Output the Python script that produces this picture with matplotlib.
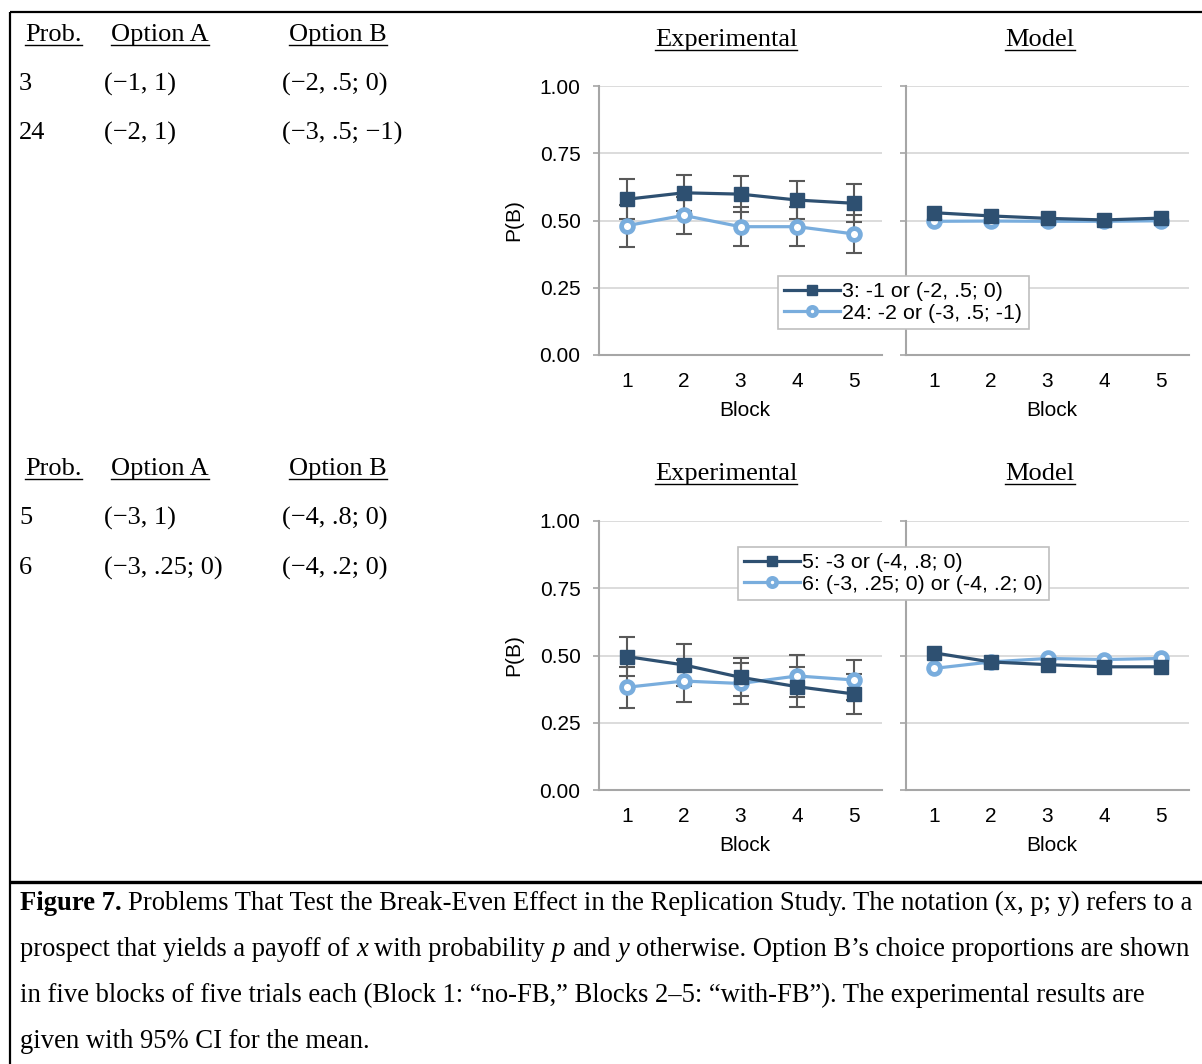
import matplotlib
matplotlib.use("Agg")
import matplotlib.pyplot as plt
from matplotlib.lines import Line2D

# ---------------- data ----------------
blocks = [1, 2, 3, 4, 5]
block_labels = ["1", "2", "3", "4", "5"]
ytick_vals = [0.0, 0.25, 0.5, 0.75, 1.0]
ytick_labels = ["0.00", "0.25", "0.50", "0.75", "1.00"]

top_labels = ["3: -1 or (-2, .5; 0)", "24: -2 or (-3, .5; -1)"]
top_exp_a = [0.579, 0.603, 0.598, 0.576, 0.564]
top_exp_a_ci = [0.074, 0.067, 0.067, 0.071, 0.070]
top_exp_b = [0.481, 0.519, 0.477, 0.477, 0.450]
top_exp_b_ci = [0.078, 0.069, 0.072, 0.072, 0.072]
top_mod_a = [0.529, 0.517, 0.508, 0.502, 0.509]
top_mod_b = [0.497, 0.498, 0.497, 0.497, 0.499]

bot_labels = ["5: -3 or (-4, .8; 0)", "6: (-3, .25; 0) or (-4, .2; 0)"]
bot_exp_a = [0.496, 0.465, 0.419, 0.384, 0.357]
bot_exp_a_ci = [0.074, 0.078, 0.070, 0.074, 0.075]
bot_exp_b = [0.382, 0.405, 0.396, 0.424, 0.409]
bot_exp_b_ci = [0.076, 0.077, 0.075, 0.077, 0.074]
bot_mod_a = [0.510, 0.476, 0.466, 0.458, 0.458]
bot_mod_b = [0.452, 0.476, 0.489, 0.485, 0.489]

table_header = ["Prob.", "Option A", "Option B"]
top_table = [["3", "(\u22121, 1)", "(\u22122, .5; 0)"],
             ["24", "(\u22122, 1)", "(\u22123, .5; \u22121)"]]
bot_table = [["5", "(\u22123, 1)", "(\u22124, .8; 0)"],
             ["6", "(\u22123, .25; 0)", "(\u22124, .2; 0)"]]

# ---------------- style ----------------
W, H = 1202, 1064
DARK = "#2E5071"
LIGHT = "#79ADDD"
ERR = "#595959"
GRID = "#D9D9D9"
AXC = "#A6A6A6"
SERIF = "Liberation Serif"
SANS = "Liberation Sans"
TSIZE = 19
CSIZE = 19.2
ASIZE = 15
LSIZE = 15.4

fig = plt.figure(figsize=(W / 100, H / 100), dpi=100)
renderer = fig.canvas.get_renderer()


def fx(px):
    return px / W


def fy(py):
    return 1 - py / H


def hline(x0, x1, y, lw):
    fig.add_artist(Line2D([fx(x0), fx(x1)], [fy(y), fy(y)], color="black", lw=lw,
                          transform=fig.transFigure, solid_capstyle="butt"))


def vline(x, y0, y1, lw):
    fig.add_artist(Line2D([fx(x), fx(x)], [fy(y0), fy(y1)], color="black", lw=lw,
                          transform=fig.transFigure, solid_capstyle="butt"))


def utext(x, y, s, ha="left"):
    t = fig.text(fx(x), fy(y), s, ha=ha, va="center", family=SERIF, fontsize=TSIZE)
    bb = t.get_window_extent(renderer)
    yl = bb.y0 + 1.5
    fig.add_artist(Line2D([bb.x0 / W, bb.x1 / W], [yl / H, yl / H], color="black",
                          lw=1.0, transform=fig.transFigure))
    return t


def make_axes(x0, x1, ytop, ybot, show_labels):
    ax = fig.add_axes([fx(x0), fy(ybot), fx(x1) - fx(x0), (ybot - ytop) / H])
    ax.set_xlim(0.5, 5.5)
    ax.set_ylim(0, 1)
    ax.set_xticks(blocks)
    ax.set_xticklabels(block_labels, family=SANS, fontsize=ASIZE)
    ax.set_yticks(ytick_vals)
    if show_labels:
        ax.set_yticklabels(ytick_labels, family=SANS, fontsize=ASIZE)
        ax.set_ylabel("P(B)", family=SANS, fontsize=ASIZE, labelpad=12)
    else:
        ax.set_yticklabels([])
    ax.set_xlabel("Block", family=SANS, fontsize=ASIZE)
    ax.xaxis.set_label_coords(0.515, -0.172)
    ax.tick_params(axis="x", length=0, pad=12)
    ax.tick_params(axis="y", length=4, width=1.2, color=AXC, pad=9, direction="out")
    for s in ["top", "right"]:
        ax.spines[s].set_visible(False)
    for s in ["left", "bottom"]:
        ax.spines[s].set_color(AXC)
        ax.spines[s].set_linewidth(1.5)
    ax.grid(axis="y", color=GRID, lw=1.3)
    ax.set_axisbelow(True)
    return ax


def plot_exp(ax, a, aci, b, bci):
    ax.errorbar(blocks, a, yerr=aci, fmt="none", ecolor=ERR, elinewidth=1.5,
                capsize=5.5, capthick=1.5, zorder=2.5)
    ax.errorbar(blocks, b, yerr=bci, fmt="none", ecolor=ERR, elinewidth=1.5,
                capsize=5.5, capthick=1.5, zorder=2.5)
    ha = ax.plot(blocks, a, color=DARK, lw=2.3, marker="s", ms=9.5, mfc=DARK, mec=DARK,
                 zorder=4, clip_on=False)[0]
    hb = ax.plot(blocks, b, color=LIGHT, lw=2.3, marker="o", ms=8.5, mfc="white",
                 mec=LIGHT, mew=3.4, zorder=3, clip_on=False)[0]
    return ha, hb


def plot_mod(ax, a, b):
    ax.plot(blocks, b, color=LIGHT, lw=2.3, marker="o", ms=8.5, mfc="white",
            mec=LIGHT, mew=3.4, zorder=3, clip_on=False)
    ax.plot(blocks, a, color=DARK, lw=2.3, marker="s", ms=9.5, mfc=DARK, mec=DARK,
            zorder=4, clip_on=False)


def add_legend(handles, labels, x, y):
    leg = fig.legend(handles, labels, loc="upper left",
                     bbox_to_anchor=(fx(x), fy(y)), bbox_transform=fig.transFigure,
                     prop={"family": SANS, "size": LSIZE}, frameon=True, fancybox=False,
                     edgecolor="#BFBFBF", framealpha=1, borderpad=0.3, borderaxespad=0,
                     handlelength=2.6, handletextpad=0.1, labelspacing=0.1,
                     markerscale=0.7)
    leg.get_frame().set_linewidth(1.2)
    leg.set_zorder(10)
    return leg


# ---------------- panels ----------------
for (ytop, ybot, exp_data, mod_data, labels, legxy, tab, hdr_y, row_ys, title_y) in [
    (86, 355, (top_exp_a, top_exp_a_ci, top_exp_b, top_exp_b_ci), (top_mod_a, top_mod_b),
     top_labels, (778, 276), top_table, 35, (84, 133), 40),
    (521, 790, (bot_exp_a, bot_exp_a_ci, bot_exp_b, bot_exp_b_ci), (bot_mod_a, bot_mod_b),
     bot_labels, (738, 547), bot_table, 469, (518, 568), 474),
]:
    ax1 = make_axes(598.6, 882.4, ytop, ybot, True)
    h1, h2 = plot_exp(ax1, *exp_data)
    ax2 = make_axes(905.6, 1189.4, ytop, ybot, False)
    plot_mod(ax2, *mod_data)
    add_legend([h1, h2], labels, *legxy)

    utext(726, title_y, "Experimental", ha="center")
    utext(1040, title_y, "Model", ha="center")

    utext(25, hdr_y, table_header[0])
    utext(111, hdr_y, table_header[1])
    utext(289, hdr_y, table_header[2])
    for row, ry in zip(tab, row_ys):
        for s, xx in zip(row, (19, 104, 282)):
            fig.text(fx(xx), fy(ry), s, ha="left", va="center", family=SERIF, fontsize=TSIZE)

# ---------------- frame lines ----------------
hline(10, W, 12, 1.6)
vline(10, 12, H, 1.6)
hline(10, W, 882, 2.4)

# ---------------- caption ----------------
def seg_line(x, y, segs):
    sp = fig.text(0, 0, "a a", family=SERIF, fontsize=CSIZE)
    sp2 = fig.text(0, 0, "aa", family=SERIF, fontsize=CSIZE)
    space = sp.get_window_extent(renderer).width - sp2.get_window_extent(renderer).width
    sp.remove(); sp2.remove()
    cx = x
    for s, style in segs:
        lead = len(s) - len(s.lstrip(" "))
        trail = len(s) - len(s.rstrip(" "))
        core = s.strip(" ")
        cx += lead * space
        kw = dict(family=SERIF, fontsize=CSIZE, ha="left", va="baseline")
        if style == "b":
            kw["fontweight"] = "bold"
        elif style == "i":
            kw["fontstyle"] = "italic"
        t = fig.text(cx / W, fy(y), core, **kw)
        cx += t.get_window_extent(renderer).width + trail * space


cap_lines = [
    [("Figure 7.", "b"), (" Problems That Test the Break-Even Effect in the Replication Study. "
                          "The notation (x, p; y) refers to a", "n")],
    [("prospect that yields a payoff of ", "n"), ("x", "i"), (" with probability ", "n"),
     ("p", "i"), (" and ", "n"), ("y", "i"),
     (" otherwise. Option B\u2019s choice proportions are shown", "n")],
    [("in five blocks of five trials each (Block 1: \u201cno-FB,\u201d Blocks 2\u20135: "
      "\u201cwith-FB\u201d). The experimental results are", "n")],
    [("given with 95% CI for the mean.", "n")],
]
for line, yb in zip(cap_lines, (910, 956, 1002, 1048)):
    seg_line(20, yb, line)

fig.savefig("out.png", dpi=100)
